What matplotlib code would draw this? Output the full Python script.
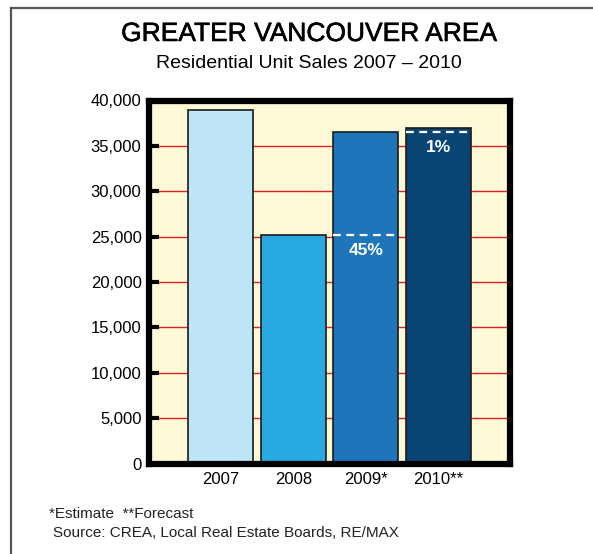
import matplotlib
matplotlib.use("Agg")
import matplotlib.pyplot as plt
from matplotlib.lines import Line2D
import matplotlib.patheffects as pe

categories = ["2007", "2008", "2009*", "2010**"]
sales = [39000, 25150, 36500, 37000]
bar_colors = ["#bde5f7", "#29a9e1", "#1f75ba", "#0a4473"]
yticks = [0, 5000, 10000, 15000, 20000, 25000, 30000, 35000, 40000]
ytick_labels = ["0", "5,000", "10,000", "15,000", "20,000", "25,000", "30,000", "35,000", "40,000"]
change_labels = [None, None, "45%", "1%"]

plt.rcParams['font.family'] = ['Liberation Sans', 'DejaVu Sans']

W, H = 593, 554
fig = plt.figure(figsize=(W / 100, H / 100), dpi=100)
fig.patch.set_facecolor("white")

# outer border
fig.add_artist(Line2D([11 / W, 11 / W], [0, 1 - 7.5 / H], transform=fig.transFigure, color="#555555", lw=1.6))
fig.add_artist(Line2D([11 / W, 1], [1 - 7.5 / H, 1 - 7.5 / H], transform=fig.transFigure, color="#555555", lw=1.6))

left, right, top, bottom = 148.5, 510.5, 100.5, 463.5
ax = fig.add_axes([left / W, 1 - bottom / H, (right - left) / W, (bottom - top) / H])
ax.set_facecolor("#fefad8")

x = list(range(len(categories)))
ax.bar(x, sales, width=0.9, color=bar_colors, edgecolor="#1a1a1a", linewidth=1.2, zorder=3)

# previous-year reference dashes and percentage labels
for i in range(1, len(categories)):
    if change_labels[i]:
        prev = sales[i - 1]
        ax.plot([i - 0.45, i + 0.45], [prev, prev], color="white", lw=1.6,
                linestyle=(0, (3.5, 2.5)), zorder=4)
        ax.text(i, prev - 1650, change_labels[i], color="white", fontsize=12.5, fontweight="bold",
                ha="center", va="center", zorder=5)

ax.set_xlim(-1, 4)
ax.set_ylim(0, 40000)
ax.set_yticks(yticks)
ax.set_yticklabels(ytick_labels, fontsize=12)
ax.set_xticks(x)
ax.set_xticklabels(categories, fontsize=12)
ax.tick_params(axis="y", direction="in", length=7, width=3, color="black", pad=5)
ax.tick_params(axis="x", length=0, pad=6)
for s in ax.spines.values():
    s.set_linewidth(4.5)
    s.set_color("black")
    s.set_zorder(6)

for yv in yticks[1:-1]:
    ax.axhline(yv, color="#e3202a", lw=1.0, zorder=1)

fig.text(309 / W, 1 - 34 / H, "GREATER VANCOUVER AREA", fontsize=19, ha="center", va="center",
         fontweight="normal",
         path_effects=[pe.withStroke(linewidth=0.4, foreground="black")])
fig.text(309 / W, 1 - 63 / H, "Residential Unit Sales 2007 \u2013 2010", fontsize=14,
         ha="center", va="center")
fig.text(49 / W, 1 - 514 / H, "*Estimate  **Forecast", fontsize=11, ha="left", va="center", color="#222222")
fig.text(53 / W, 1 - 533 / H, "Source: CREA, Local Real Estate Boards, RE/MAX", fontsize=11,
         ha="left", va="center", color="#222222")

fig.savefig("out.png", dpi=100)
